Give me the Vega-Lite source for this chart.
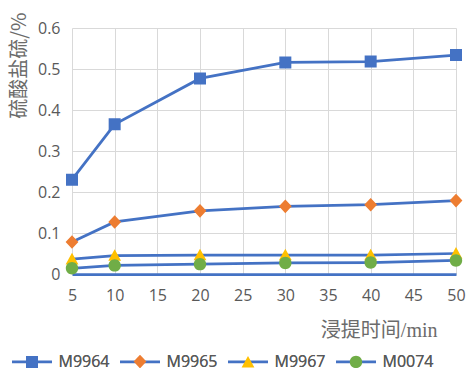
{
  "$schema": "https://vega.github.io/schema/vega-lite/v6.json",
  "autosize": "none",
  "width": 384,
  "height": 246,
  "padding": {"left": 72, "top": 28, "right": 11, "bottom": 94},
  "background": "white",
  "config": {
    "view": {"stroke": null},
    "font": "Open Sans",
    "axis": {
      "labelFont": "Open Sans",
      "labelFontSize": 16,
      "labelColor": "#595959",
      "labelFlush": false,
      "gridColor": "#d9d9d9",
      "gridWidth": 1,
      "ticks": false
    },
    "legend": {
      "labelFont": "Open Sans",
      "labelFontSize": 16,
      "labelColor": "#595959",
      "title": null,
      "orient": "none",
      "direction": "horizontal",
      "legendX": -61.5,
      "legendY": 312,
      "padding": 0,
      "labelOffset": 5,
      "columnPadding": 5,
      "symbolSize": 1600,
      "symbolStrokeWidth": 2.75
    }
  },
  "data": {
    "values": [
      {"t": 5, "s": "M9964", "v": 0.230},
      {"t": 10, "s": "M9964", "v": 0.365},
      {"t": 20, "s": "M9964", "v": 0.477},
      {"t": 30, "s": "M9964", "v": 0.516},
      {"t": 40, "s": "M9964", "v": 0.518},
      {"t": 50, "s": "M9964", "v": 0.534},
      {"t": 5, "s": "M9965", "v": 0.078},
      {"t": 10, "s": "M9965", "v": 0.127},
      {"t": 20, "s": "M9965", "v": 0.154},
      {"t": 30, "s": "M9965", "v": 0.165},
      {"t": 40, "s": "M9965", "v": 0.169},
      {"t": 50, "s": "M9965", "v": 0.179},
      {"t": 5, "s": "M9967", "v": 0.036},
      {"t": 10, "s": "M9967", "v": 0.045},
      {"t": 20, "s": "M9967", "v": 0.046},
      {"t": 30, "s": "M9967", "v": 0.046},
      {"t": 40, "s": "M9967", "v": 0.046},
      {"t": 50, "s": "M9967", "v": 0.050},
      {"t": 5, "s": "M0074", "v": 0.014},
      {"t": 10, "s": "M0074", "v": 0.021},
      {"t": 20, "s": "M0074", "v": 0.024},
      {"t": 30, "s": "M0074", "v": 0.027},
      {"t": 40, "s": "M0074", "v": 0.028},
      {"t": 50, "s": "M0074", "v": 0.033}
    ]
  },
  "encoding": {
    "x": {
      "field": "t",
      "type": "quantitative",
      "scale": {"domain": [5, 50], "nice": false, "zero": false},
      "axis": {
        "values": [5, 10, 15, 20, 25, 30, 35, 40, 45, 50],
        "labelPadding": 13,
        "domainColor": "#4472C4",
        "domainWidth": 2.75,
        "title": "浸提时间/min",
        "titleFont": "Liberation Serif, Noto Sans CJK SC",
        "titleFontSize": 20,
        "titleFontWeight": "normal",
        "titleColor": "#6b6b6b",
        "titleAlign": "right",
        "titleBaseline": "middle",
        "titleX": 365,
        "titleY": 56
      }
    },
    "y": {
      "field": "v",
      "type": "quantitative",
      "scale": {"domain": [0, 0.6], "nice": false},
      "axis": {
        "values": [0, 0.1, 0.2, 0.3, 0.4, 0.5, 0.6],
        "format": "~g",
        "labelPadding": 12,
        "domain": false,
        "title": "硫酸盐硫/%",
        "titleFont": "Noto Sans CJK SC",
        "titleFontSize": 20,
        "titleFontWeight": "normal",
        "titleColor": "#6b6b6b",
        "titleAngle": -90,
        "titleAlign": "right",
        "titleBaseline": "middle",
        "titleX": -53,
        "titleY": -16
      }
    }
  },
  "layer": [
    {
      "mark": {"type": "line", "strokeWidth": 2.75},
      "encoding": {
        "stroke": {
          "field": "s",
          "type": "nominal",
          "sort": null,
          "scale": {"range": ["#4472C4", "#4472C4", "#4472C4", "#4472C4"]},
          "legend": {"symbolType": "stroke"}
        }
      }
    },
    {
      "mark": {"type": "point", "filled": true, "opacity": 1, "size": 1600},
      "encoding": {
        "fill": {
          "field": "s",
          "type": "nominal",
          "scale": {
            "domain": ["M9964", "M9965", "M9967", "M0074"],
            "range": ["#4472C4", "#ED7D31", "#FFC000", "#70AD47"]
          },
          "legend": {"symbolStrokeColor": "transparent"}
        },
        "shape": {
          "field": "s",
          "type": "nominal",
          "scale": {
            "domain": ["M9964", "M9965", "M9967", "M0074"],
            "range": [
              "M-1,0H1M-0.3,-0.3H0.3V0.3H-0.3Z",
              "M-1,0H1M0,-0.34L0.32,0L0,0.34L-0.32,0Z",
              "M-1,0H1M0,-0.32L0.32,0.26L-0.32,0.26Z",
              "M-1,0H1M0.31,0A0.31,0.31,0,1,1,-0.31,0A0.31,0.31,0,1,1,0.31,0Z"
            ]
          }
        }
      }
    }
  ]
}
